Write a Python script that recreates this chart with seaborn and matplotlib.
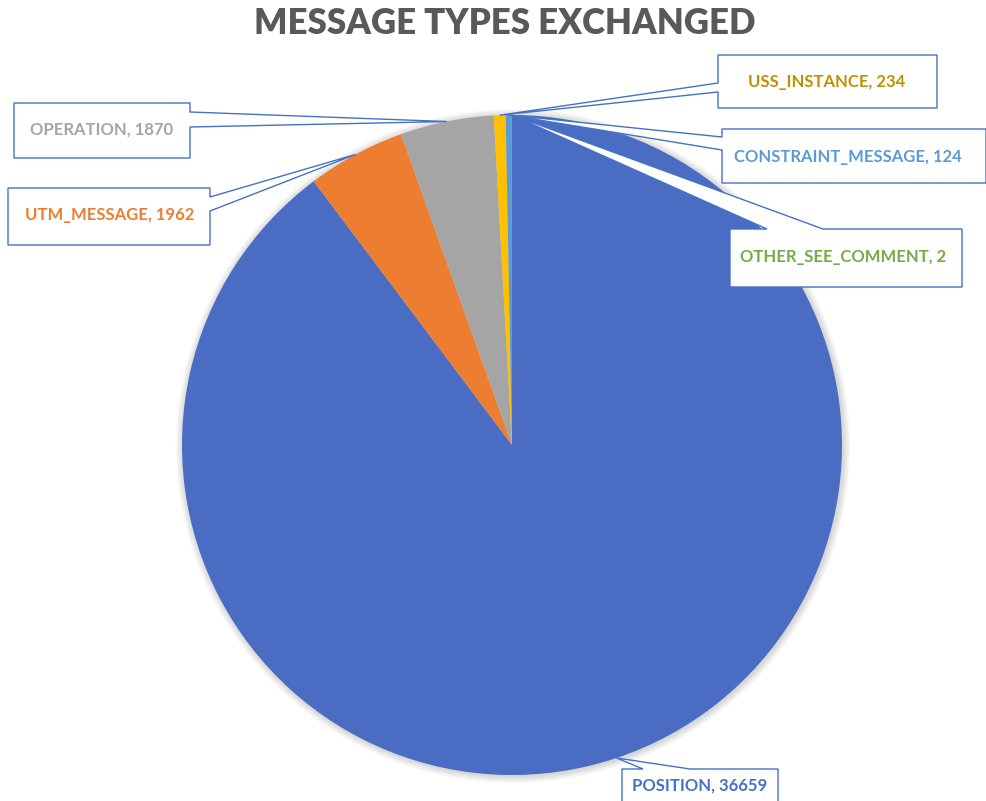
import numpy as np
import matplotlib
matplotlib.use("Agg")
import matplotlib.pyplot as plt
from matplotlib.patches import Polygon, Circle
import seaborn as sns

# ---- data ----
categories = ["POSITION", "UTM_MESSAGE", "OPERATION", "USS_INSTANCE",
              "CONSTRAINT_MESSAGE", "OTHER_SEE_COMMENT"]
counts = [36659, 1962, 1870, 234, 124, 2]
slice_colors = ["#4A6DC3", "#ED7D31", "#A5A5A5", "#FFC000", "#5B9BD5", "#70AD47"]
label_colors = ["#4472C4", "#ED7D31", "#A5A5A5", "#BF9000", "#5B9BD5", "#70AD47"]
title = "MESSAGE TYPES EXCHANGED"

sns.set_theme(style="white")
plt.rcParams["font.family"] = ["Lato", "DejaVu Sans"]

W, H = 987, 801
fig = plt.figure(figsize=(W / 100, H / 100), dpi=100)
ax = fig.add_axes([0, 0, 1, 1])

def py(y):  # pixel-from-top to data y
    return H - y

cx, cy, R = 512, py(445), 330

# soft halo / shadow
for k in range(1, 9):
    ax.add_patch(Circle((cx + 1, cy - 1), R + k * 0.9, color="black",
                        alpha=0.018, lw=0, zorder=0))

wedges, _ = ax.pie(counts, colors=slice_colors, startangle=90, counterclock=False,
                   center=(cx, cy), radius=R, frame=True,
                   wedgeprops=dict(linewidth=0))
for w in wedges:
    w.set_zorder(1)

ax.set_xlim(0, W)
ax.set_ylim(0, H)
ax.set_axis_off()

# mid-angle of each slice (from data)
total = float(sum(counts))
cum = np.cumsum([0] + counts[:-1])
mid_deg = [90 - 360.0 * (c + v / 2.0) / total for c, v in zip(cum, counts)]

# callout layout: box (x0, ytop, x1, ybottom) in pixels, edge, base coords, text center
layout = {
    "POSITION":           ((622, 769, 778, 812), "top",   (643, 690), (700, 786)),
    "UTM_MESSAGE":        ((8, 188, 210, 245),   "right", (197, 211), (110, 215)),
    "OPERATION":          ((14, 103, 190, 158),  "right", (112, 127), (102, 130)),
    "USS_INSTANCE":       ((718, 55, 937, 108),  "left",  (83, 92),   (827, 82)),
    "CONSTRAINT_MESSAGE": ((722, 129, 986, 183), "left",  (137, 150), (848, 157)),
    "OTHER_SEE_COMMENT":  ((730, 229, 962, 287), "top",   (767, 823), (843, 257)),
}

edge_col = "#4472C4"
for name, val, tcol, md in zip(categories, counts, label_colors, mid_deg):
    (x0, yt, x1, yb), edge, (b1, b2), (tx, ty) = layout[name]
    a = np.deg2rad(md)
    apex = (cx + R * np.cos(a), cy + R * np.sin(a))
    T, B = py(yt), py(yb)
    if edge == "left":
        verts = [(x0, T), (x1, T), (x1, B), (x0, B),
                 (x0, py(b2)), apex, (x0, py(b1))]
    elif edge == "right":
        verts = [(x0, T), (x1, T), (x1, py(b1)), apex, (x1, py(b2)),
                 (x1, B), (x0, B)]
    else:  # top
        verts = [(x0, T), (b1, T), apex, (b2, T), (x1, T), (x1, B), (x0, B)]
    ax.add_patch(Polygon(verts, closed=True, facecolor="white",
                         edgecolor=edge_col, linewidth=1.0, zorder=3,
                         joinstyle="miter"))
    ax.text(tx, py(ty), f"{name}, {val}", color=tcol, fontsize=12,
            fontweight="bold", ha="center", va="center", zorder=4)

ax.text(505, py(23), title, color="#595959", fontsize=25, fontweight="heavy",
        ha="center", va="center", zorder=4)

fig.savefig("out.png", dpi=100, facecolor="white")
